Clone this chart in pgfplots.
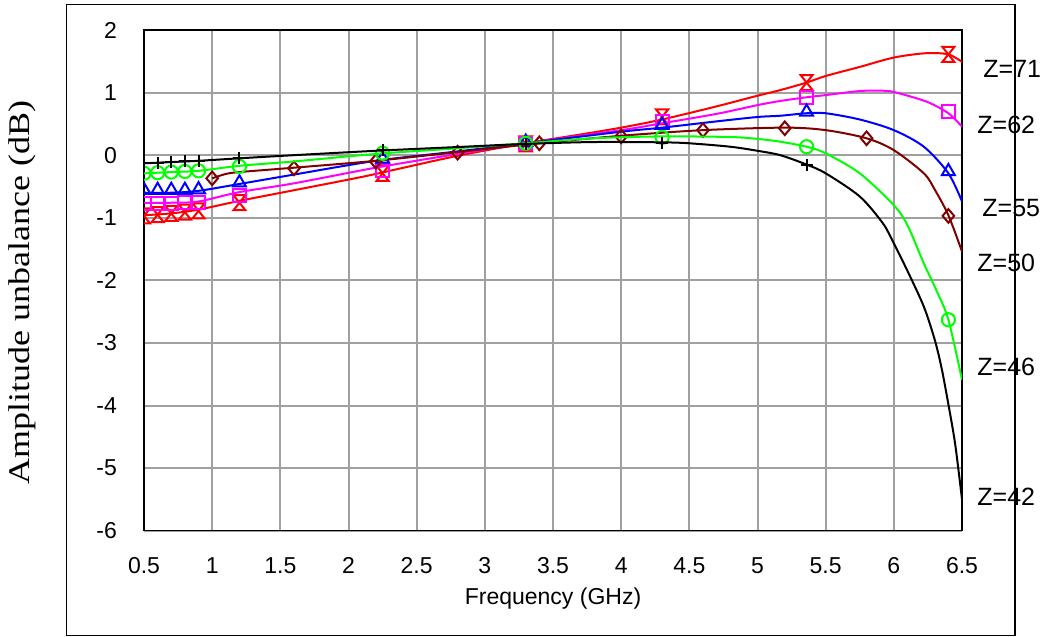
\documentclass[border=0pt]{standalone}
\usepackage{fontspec}
\setmainfont{Liberation Sans}
\newfontfamily\timesfont{Liberation Serif}
\usepackage{graphicx}
\usepackage{pgfplots}
\usepackage{pgfplotstable}
\pgfplotsset{compat=1.18}

\definecolor{zbrown}{RGB}{128,0,0}
\definecolor{zgreen}{RGB}{0,255,0}
\definecolor{zmag}{RGB}{255,0,255}
\definecolor{gridgray}{RGB}{160,160,160}

\pgfdeclareplotmark{hourglass}{%
 \pgfpathmoveto{\pgfpoint{-0.8\pgfplotmarksize}{\pgfplotmarksize}}%
 \pgfpathlineto{\pgfpoint{0.8\pgfplotmarksize}{\pgfplotmarksize}}%
 \pgfpathlineto{\pgfpoint{-0.8\pgfplotmarksize}{-\pgfplotmarksize}}%
 \pgfpathlineto{\pgfpoint{0.8\pgfplotmarksize}{-\pgfplotmarksize}}%
 \pgfpathclose
 \pgfusepathqstroke}
\pgfdeclareplotmark{widediamond}{%
 \pgfpathmoveto{\pgfpoint{0pt}{\pgfplotmarksize}}%
 \pgfpathlineto{\pgfpoint{0.85\pgfplotmarksize}{0pt}}%
 \pgfpathlineto{\pgfpoint{0pt}{-\pgfplotmarksize}}%
 \pgfpathlineto{\pgfpoint{-0.85\pgfplotmarksize}{0pt}}%
 \pgfpathclose
 \pgfusepathqstroke}

% ---- Z=71 (red)
\pgfplotstableread{
f v
0.5 -0.96
0.7 -0.93
0.9 -0.87
1.2 -0.73
1.6 -0.56
2.0 -0.39
2.2 -0.30
2.8 -0.01
3.3 0.19
3.7 0.33
4.0 0.44
4.3 0.57
4.7 0.78
5.0 0.95
5.167 1.04
5.36 1.16
5.5 1.265
5.75 1.41
6.0 1.56
6.24 1.63
6.4 1.61
6.5 1.49
}\redcurve
\pgfplotstableread{
f v
0.5 -0.97
0.6 -0.95
0.7 -0.93
0.8 -0.91
0.9 -0.89
1.2 -0.76
2.25 -0.29
3.3 0.18
4.3 0.61
5.36 1.16
6.4 1.61
}\redmarks
% ---- Z=62 (magenta)
\pgfplotstableread{
f v
0.5 -0.76
0.7 -0.76
0.9 -0.74
1.2 -0.59
1.6 -0.45
2.2 -0.20
2.8 0.02
3.3 0.19
4.0 0.40
4.3 0.51
4.7 0.66
5.0 0.80
5.167 0.866
5.36 0.925
5.5 0.96
5.75 1.025
5.9 1.03
6.0 1.01
6.24 0.855
6.4 0.67
6.5 0.455
}\magcurve
\pgfplotstableread{
f v
0.5 -0.78
0.6 -0.78
0.7 -0.77
0.8 -0.76
0.9 -0.75
1.2 -0.64
2.25 -0.24
3.3 0.19
4.3 0.535
5.36 0.925
6.4 0.695
}\magmarks
% ---- Z=55 (blue)
\pgfplotstableread{
f v
0.5 -0.60
0.7 -0.60
0.9 -0.57
1.2 -0.46
1.6 -0.31
2.2 -0.09
2.8 0.06
3.3 0.19
4.0 0.375
4.3 0.44
4.7 0.54
5.0 0.61
5.167 0.63
5.36 0.67
5.5 0.67
5.75 0.57
6.0 0.40
6.22 0.135
6.4 -0.29
6.5 -0.74
}\bluecurve
\pgfplotstableread{
f v
0.5 -0.56
0.6 -0.56
0.7 -0.56
0.8 -0.56
0.9 -0.55
1.2 -0.44
2.25 -0.06
3.3 0.21
4.3 0.48
5.36 0.69
6.4 -0.26
}\bluemarks
% ---- Z=50 (brown)
\pgfplotstableread{
f v
1.0 -0.37
1.1 -0.30
1.2 -0.27
1.6 -0.20
2.2 -0.09
2.8 0.05
3.4 0.19
4.0 0.31
4.6 0.40
5.2 0.44
5.5 0.40
5.8 0.27
6.0 0.08
6.22 -0.29
6.3 -0.55
6.4 -0.96
6.5 -1.54
}\browncurve
\pgfplotstableread{
f v
1.0 -0.37
1.6 -0.21
2.2 -0.10
2.8 0.04
3.4 0.19
4.0 0.30
4.6 0.40
5.2 0.43
5.8 0.27
6.4 -0.97
}\brownmarks
% ---- Z=46 (green)
\pgfplotstableread{
f v
0.5 -0.29
0.7 -0.27
0.9 -0.25
1.2 -0.17
1.6 -0.10
2.2 0.02
2.8 0.11
3.3 0.19
3.8 0.27
4.3 0.30
4.8 0.29
5.0 0.26
5.167 0.215
5.36 0.135
5.5 0.03
5.75 -0.29
6.0 -0.80
6.1 -1.12
6.22 -1.73
6.31 -2.15
6.4 -2.63
6.5 -3.59
}\greencurve
\pgfplotstableread{
f v
0.5 -0.29
0.6 -0.28
0.7 -0.27
0.8 -0.26
0.9 -0.25
1.2 -0.18
2.25 0.03
3.3 0.19
4.3 0.285
5.36 0.135
6.4 -2.63
}\greenmarks
% ---- Z=42 (black)
\pgfplotstableread{
f v
0.5 -0.13
0.7 -0.11
0.9 -0.09
1.2 -0.05
1.6 0.00
2.2 0.07
2.8 0.13
3.3 0.18
3.8 0.21
4.3 0.205
4.5 0.19
4.8 0.135
5.0 0.07
5.167 0.0
5.36 -0.15
5.5 -0.29
5.75 -0.66
5.92 -1.09
6.0 -1.41
6.1 -1.85
6.22 -2.42
6.3 -2.95
6.35 -3.4
6.4 -3.98
6.45 -4.62
6.5 -5.5
}\blackcurve
\pgfplotstableread{
f v
0.5 -0.13
0.6 -0.12
0.7 -0.11
0.8 -0.10
0.9 -0.09
1.2 -0.05
2.25 0.08
3.3 0.18
4.3 0.20
5.36 -0.16
}\blackmarks

\begin{document}
\begin{tikzpicture}
\begin{axis}[
  width=409pt, height=250.35pt, scale only axis,
  xmin=0.5, xmax=6.5, ymin=-6, ymax=2,
  xtick={0.5,1,1.5,2,2.5,3,3.5,4,4.5,5,5.5,6,6.5},
  xticklabels={0.5,1,1.5,2,2.5,3,3.5,4,4.5,5,5.5,6,6.5},
  ytick={-6,-5,-4,-3,-2,-1,0,1,2},
  yticklabels={-6,-5,-4,-3,-2,-1,0,1,2},
  /pgf/number format/assume math mode=true,
  grid=major,
  major grid style={gridgray, line width=1pt},
  axis line style={black, line width=0.75pt},
  major tick length=0pt,
  tick label style={font=\fontsize{11.5}{13}\selectfont},
  xticklabel style={yshift=-10pt},
  yticklabel style={xshift=-10pt},
  clip marker paths=true,
  xlabel={Frequency (GHz)},
  xlabel style={at={(axis description cs:0.5,-0.148)}, anchor=base, font=\fontsize{11.5}{13}\selectfont},
  ylabel={\scalebox{1.2}[1.0]{Amplitude unbalance (dB)}},
  ylabel style={at={(axis description cs:-0.1485,0.4757)}, anchor=center, font=\timesfont\fontsize{15}{18}\selectfont},
  every axis plot/.append style={line width=1pt},
  after end axis/.code={
    \draw[black, line width=0.75pt] (axis description cs:-0.0945,-0.2097) rectangle (axis description cs:1.0648,1.0505);
    \path (axis description cs:-0.17604,-0.2123) rectangle (axis description cs:1.10513,1.05992);
    \begin{scope}[every node/.style={anchor=west, inner sep=0pt, font=\fontsize{12.5}{14}\selectfont}]
    \node at (axis description cs:1.0257,0.922) {Z=71};
    \node at (axis description cs:1.0183,0.810) {Z=62};
    \node at (axis description cs:1.0244,0.6445) {Z=55};
    \node at (axis description cs:1.0183,0.5347) {Z=50};
    \node at (axis description cs:1.0183,0.3269) {Z=46};
    \node at (axis description cs:1.0183,0.0673) {Z=42};
    \end{scope}
  },
]
\addplot[red, smooth, no markers] table[x=f, y=v] {\redcurve};
\addplot[red, only marks, mark=hourglass, mark size=3.75pt, mark options={line width=1pt}] table[x=f, y=v] {\redmarks};
\addplot[zmag, smooth, no markers] table[x=f, y=v] {\magcurve};
\addplot[zmag, only marks, mark=square, mark size=3.25pt, mark options={line width=1pt}] table[x=f, y=v] {\magmarks};
\addplot[blue, smooth, no markers] table[x=f, y=v] {\bluecurve};
\addplot[blue, only marks, mark=triangle, mark size=3.75pt, mark options={line width=1pt}] table[x=f, y=v] {\bluemarks};
\addplot[zbrown, smooth, no markers] table[x=f, y=v] {\browncurve};
\addplot[zbrown, only marks, mark=widediamond, mark size=3.4pt, mark options={line width=1pt}] table[x=f, y=v] {\brownmarks};
\addplot[zgreen, smooth, no markers] table[x=f, y=v] {\greencurve};
\addplot[zgreen, only marks, mark=o, mark size=3.3pt, mark options={line width=1pt}] table[x=f, y=v] {\greenmarks};
\addplot[black, smooth, no markers] table[x=f, y=v] {\blackcurve};
\addplot[black, only marks, mark=+, mark size=3pt, mark options={line width=1pt}] table[x=f, y=v] {\blackmarks};
\end{axis}
\end{tikzpicture}
\end{document}
